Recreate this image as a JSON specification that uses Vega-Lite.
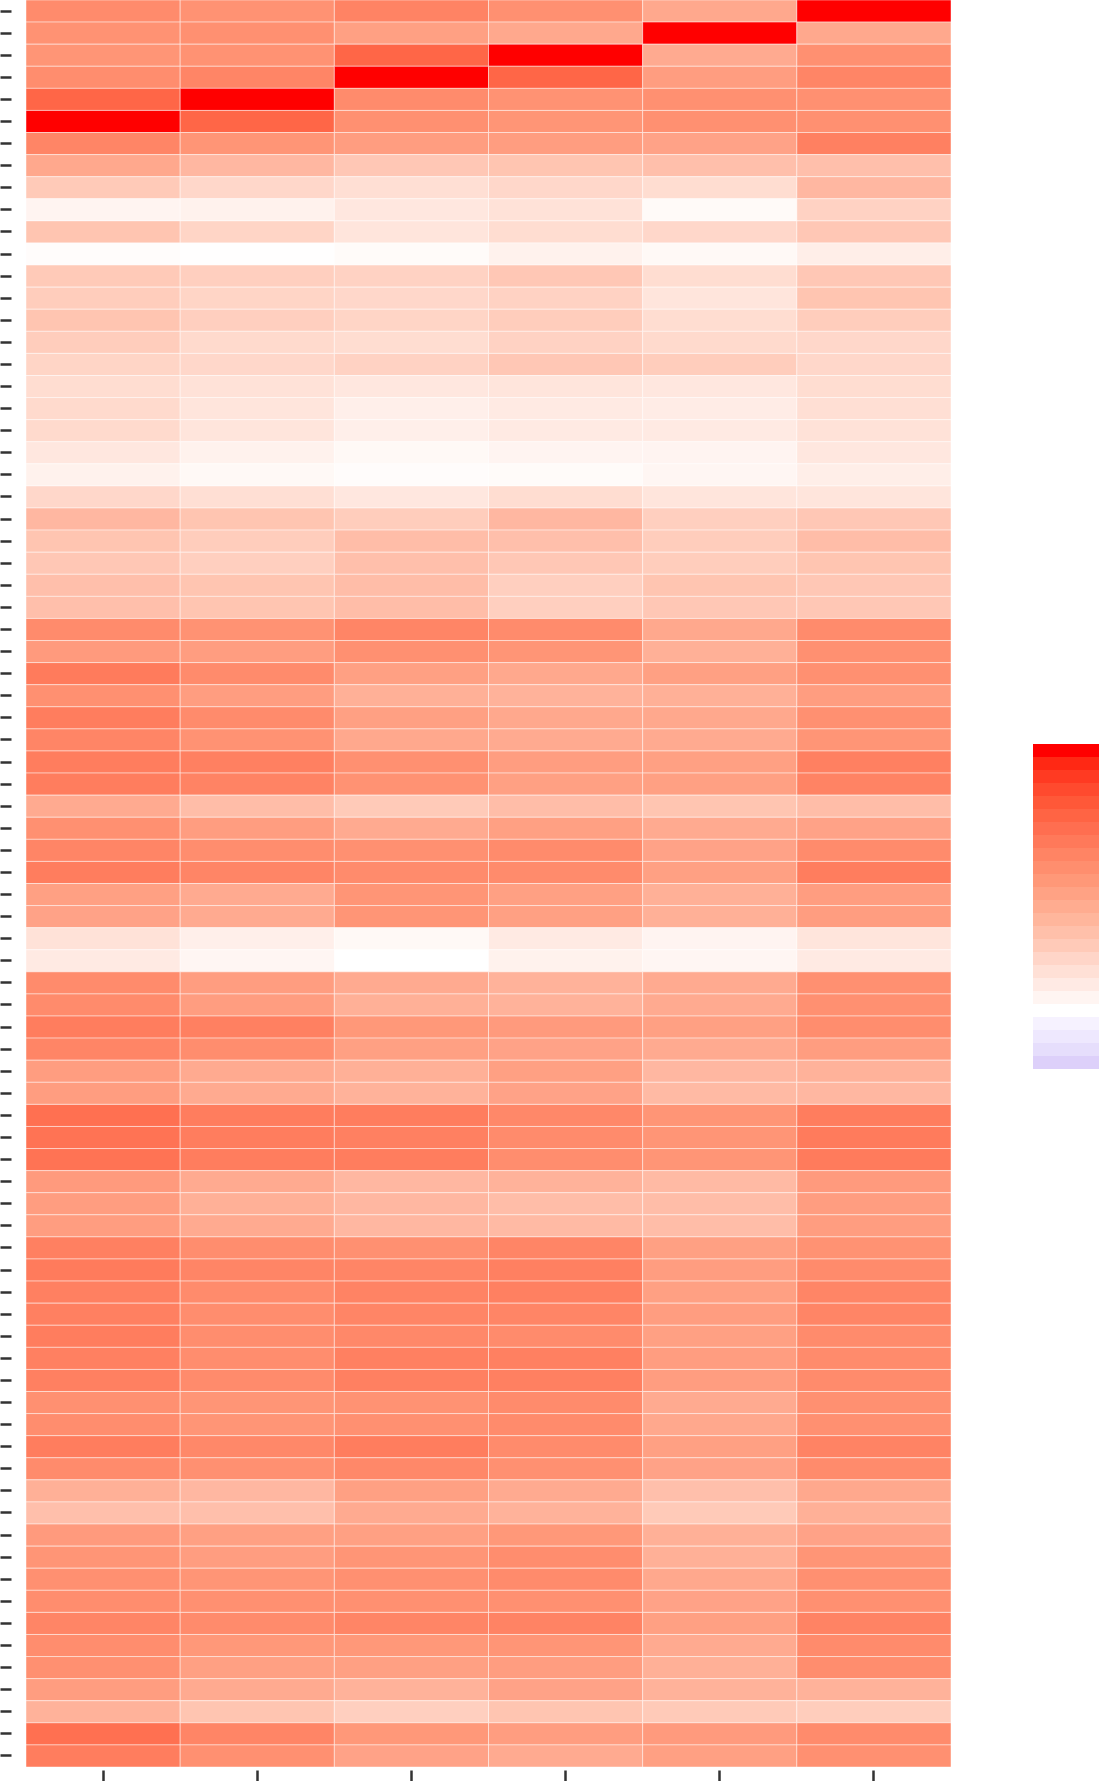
{
  "$schema": "https://vega.github.io/schema/vega-lite/v6.json",
  "width": 925,
  "height": 1767,
  "autosize": {"type": "none"},
  "padding": {"left": 26, "top": 0, "right": 148, "bottom": 14},
  "background": "#ffffff",
  "config": {"view": {"stroke": null}},
  "data": {
    "values": [
      {"r": 0, "c1": 2.2, "c2": 2.05, "c3": 2.35, "c4": 2.1, "c5": 1.65, "c6": 4.13},
      {"r": 1, "c1": 2.05, "c2": 2.1, "c3": 1.8, "c4": 1.65, "c5": 4.13, "c6": 1.65},
      {"r": 2, "c1": 2.0, "c2": 2.05, "c3": 2.9, "c4": 4.13, "c5": 1.6, "c6": 2.1},
      {"r": 3, "c1": 2.15, "c2": 2.3, "c3": 4.13, "c4": 2.9, "c5": 1.85, "c6": 2.3},
      {"r": 4, "c1": 2.9, "c2": 4.13, "c3": 2.2, "c4": 2.05, "c5": 2.1, "c6": 2.1},
      {"r": 5, "c1": 4.13, "c2": 2.9, "c3": 2.1, "c4": 2.0, "c5": 2.1, "c6": 2.1},
      {"r": 6, "c1": 2.3, "c2": 2.0, "c3": 1.85, "c4": 1.85, "c5": 1.75, "c6": 2.4},
      {"r": 7, "c1": 1.65, "c2": 1.35, "c3": 1.05, "c4": 1.1, "c5": 1.2, "c6": 1.2},
      {"r": 8, "c1": 1.0, "c2": 0.75, "c3": 0.6, "c4": 0.75, "c5": 0.65, "c6": 1.35},
      {"r": 9, "c1": 0.2, "c2": 0.25, "c3": 0.45, "c4": 0.55, "c5": 0.1, "c6": 0.85},
      {"r": 10, "c1": 1.1, "c2": 0.8, "c3": 0.5, "c4": 0.65, "c5": 0.75, "c6": 1.05},
      {"r": 11, "c1": 0.05, "c2": 0.02, "c3": 0.08, "c4": 0.25, "c5": 0.12, "c6": 0.32},
      {"r": 12, "c1": 1.0, "c2": 0.9, "c3": 0.85, "c4": 1.05, "c5": 0.65, "c6": 1.05},
      {"r": 13, "c1": 0.95, "c2": 0.8, "c3": 0.75, "c4": 0.85, "c5": 0.5, "c6": 1.1},
      {"r": 14, "c1": 1.1, "c2": 0.9, "c3": 0.8, "c4": 0.95, "c5": 0.65, "c6": 0.95},
      {"r": 15, "c1": 0.95, "c2": 0.7, "c3": 0.65, "c4": 0.85, "c5": 0.7, "c6": 0.75},
      {"r": 16, "c1": 0.8, "c2": 0.75, "c3": 0.85, "c4": 1.05, "c5": 0.95, "c6": 0.75},
      {"r": 17, "c1": 0.65, "c2": 0.55, "c3": 0.45, "c4": 0.5, "c5": 0.45, "c6": 0.65},
      {"r": 18, "c1": 0.7, "c2": 0.5, "c3": 0.3, "c4": 0.4, "c5": 0.35, "c6": 0.6},
      {"r": 19, "c1": 0.7, "c2": 0.5, "c3": 0.3, "c4": 0.4, "c5": 0.4, "c6": 0.55},
      {"r": 20, "c1": 0.45, "c2": 0.25, "c3": 0.12, "c4": 0.2, "c5": 0.2, "c6": 0.45},
      {"r": 21, "c1": 0.25, "c2": 0.12, "c3": 0.05, "c4": 0.08, "c5": 0.17, "c6": 0.33},
      {"r": 22, "c1": 0.75, "c2": 0.6, "c3": 0.45, "c4": 0.65, "c5": 0.5, "c6": 0.5},
      {"r": 23, "c1": 1.35, "c2": 1.1, "c3": 0.95, "c4": 1.35, "c5": 0.9, "c6": 1.05},
      {"r": 24, "c1": 1.1, "c2": 0.95, "c3": 1.25, "c4": 1.2, "c5": 0.95, "c6": 1.25},
      {"r": 25, "c1": 1.05, "c2": 0.9, "c3": 1.2, "c4": 1.05, "c5": 0.95, "c6": 1.1},
      {"r": 26, "c1": 1.2, "c2": 1.1, "c3": 1.25, "c4": 0.9, "c5": 1.1, "c6": 1.05},
      {"r": 27, "c1": 1.2, "c2": 1.1, "c3": 1.25, "c4": 0.9, "c5": 1.05, "c6": 1.05},
      {"r": 28, "c1": 2.2, "c2": 2.05, "c3": 2.3, "c4": 2.2, "c5": 1.65, "c6": 2.2},
      {"r": 29, "c1": 1.9, "c2": 1.85, "c3": 2.1, "c4": 2.0, "c5": 1.5, "c6": 2.1},
      {"r": 30, "c1": 2.5, "c2": 2.2, "c3": 1.8, "c4": 1.65, "c5": 1.8, "c6": 2.1},
      {"r": 31, "c1": 2.1, "c2": 1.85, "c3": 1.5, "c4": 1.45, "c5": 1.5, "c6": 1.85},
      {"r": 32, "c1": 2.45, "c2": 2.2, "c3": 1.8, "c4": 1.65, "c5": 1.65, "c6": 2.1},
      {"r": 33, "c1": 2.3, "c2": 2.05, "c3": 1.65, "c4": 1.6, "c5": 1.6, "c6": 2.0},
      {"r": 34, "c1": 2.45, "c2": 2.4, "c3": 2.1, "c4": 1.85, "c5": 1.8, "c6": 2.4},
      {"r": 35, "c1": 2.45, "c2": 2.35, "c3": 2.05, "c4": 1.8, "c5": 1.8, "c6": 2.35},
      {"r": 36, "c1": 1.6, "c2": 1.25, "c3": 1.0, "c4": 1.25, "c5": 1.1, "c6": 1.25},
      {"r": 37, "c1": 2.1, "c2": 1.85, "c3": 1.6, "c4": 1.8, "c5": 1.6, "c6": 1.75},
      {"r": 38, "c1": 2.3, "c2": 2.15, "c3": 2.1, "c4": 2.2, "c5": 1.75, "c6": 2.2},
      {"r": 39, "c1": 2.45, "c2": 2.3, "c3": 2.2, "c4": 2.2, "c5": 1.8, "c6": 2.45},
      {"r": 40, "c1": 1.8, "c2": 1.6, "c3": 2.0, "c4": 1.8, "c5": 1.5, "c6": 1.85},
      {"r": 41, "c1": 1.75, "c2": 1.6, "c3": 2.0, "c4": 1.8, "c5": 1.5, "c6": 1.85},
      {"r": 42, "c1": 0.55, "c2": 0.3, "c3": 0.12, "c4": 0.4, "c5": 0.2, "c6": 0.5},
      {"r": 43, "c1": 0.4, "c2": 0.17, "c3": 0.0, "c4": 0.25, "c5": 0.17, "c6": 0.4},
      {"r": 44, "c1": 2.2, "c2": 1.85, "c3": 1.6, "c4": 1.45, "c5": 1.6, "c6": 2.1},
      {"r": 45, "c1": 2.2, "c2": 1.85, "c3": 1.5, "c4": 1.45, "c5": 1.6, "c6": 2.1},
      {"r": 46, "c1": 2.45, "c2": 2.4, "c3": 1.95, "c4": 1.9, "c5": 1.8, "c6": 2.15},
      {"r": 47, "c1": 2.3, "c2": 2.15, "c3": 1.8, "c4": 1.75, "c5": 1.6, "c6": 1.85},
      {"r": 48, "c1": 1.85, "c2": 1.6, "c3": 1.5, "c4": 1.8, "c5": 1.35, "c6": 1.45},
      {"r": 49, "c1": 1.85, "c2": 1.6, "c3": 1.45, "c4": 1.75, "c5": 1.3, "c6": 1.35},
      {"r": 50, "c1": 2.7, "c2": 2.45, "c3": 2.45, "c4": 2.25, "c5": 2.0, "c6": 2.45},
      {"r": 51, "c1": 2.65, "c2": 2.45, "c3": 2.4, "c4": 2.2, "c5": 2.0, "c6": 2.5},
      {"r": 52, "c1": 2.65, "c2": 2.45, "c3": 2.45, "c4": 2.15, "c5": 2.0, "c6": 2.5},
      {"r": 53, "c1": 1.9, "c2": 1.6, "c3": 1.35, "c4": 1.45, "c5": 1.3, "c6": 1.9},
      {"r": 54, "c1": 1.85, "c2": 1.5, "c3": 1.35, "c4": 1.25, "c5": 1.25, "c6": 1.85},
      {"r": 55, "c1": 1.85, "c2": 1.6, "c3": 1.35, "c4": 1.3, "c5": 1.25, "c6": 1.85},
      {"r": 56, "c1": 2.4, "c2": 2.15, "c3": 2.1, "c4": 2.3, "c5": 1.8, "c6": 2.05},
      {"r": 57, "c1": 2.5, "c2": 2.3, "c3": 2.3, "c4": 2.4, "c5": 1.85, "c6": 2.2},
      {"r": 58, "c1": 2.4, "c2": 2.2, "c3": 2.35, "c4": 2.4, "c5": 1.8, "c6": 2.3},
      {"r": 59, "c1": 2.4, "c2": 2.15, "c3": 2.3, "c4": 2.3, "c5": 1.85, "c6": 2.3},
      {"r": 60, "c1": 2.45, "c2": 2.15, "c3": 2.25, "c4": 2.2, "c5": 1.8, "c6": 2.2},
      {"r": 61, "c1": 2.4, "c2": 2.15, "c3": 2.4, "c4": 2.4, "c5": 1.85, "c6": 2.2},
      {"r": 62, "c1": 2.4, "c2": 2.2, "c3": 2.4, "c4": 2.4, "c5": 1.85, "c6": 2.2},
      {"r": 63, "c1": 2.1, "c2": 2.0, "c3": 2.05, "c4": 2.2, "c5": 1.6, "c6": 2.1},
      {"r": 64, "c1": 2.15, "c2": 2.0, "c3": 2.1, "c4": 2.2, "c5": 1.65, "c6": 2.1},
      {"r": 65, "c1": 2.45, "c2": 2.25, "c3": 2.45, "c4": 2.2, "c5": 1.8, "c6": 2.35},
      {"r": 66, "c1": 2.2, "c2": 2.1, "c3": 2.25, "c4": 2.1, "c5": 1.75, "c6": 2.2},
      {"r": 67, "c1": 1.5, "c2": 1.35, "c3": 1.8, "c4": 1.6, "c5": 1.2, "c6": 1.65},
      {"r": 68, "c1": 1.2, "c2": 1.2, "c3": 1.6, "c4": 1.45, "c5": 1.0, "c6": 1.5},
      {"r": 69, "c1": 1.9, "c2": 1.8, "c3": 1.8, "c4": 1.95, "c5": 1.5, "c6": 1.75},
      {"r": 70, "c1": 2.0, "c2": 1.85, "c3": 2.0, "c4": 2.15, "c5": 1.5, "c6": 2.0},
      {"r": 71, "c1": 2.1, "c2": 2.0, "c3": 2.1, "c4": 2.2, "c5": 1.65, "c6": 2.1},
      {"r": 72, "c1": 2.15, "c2": 2.1, "c3": 2.1, "c4": 2.1, "c5": 1.75, "c6": 2.1},
      {"r": 73, "c1": 2.3, "c2": 2.2, "c3": 2.3, "c4": 2.35, "c5": 1.8, "c6": 2.35},
      {"r": 74, "c1": 2.15, "c2": 1.95, "c3": 1.95, "c4": 2.0, "c5": 1.6, "c6": 2.2},
      {"r": 75, "c1": 2.1, "c2": 1.8, "c3": 1.8, "c4": 1.85, "c5": 1.5, "c6": 2.15},
      {"r": 76, "c1": 1.85, "c2": 1.6, "c3": 1.45, "c4": 1.75, "c5": 1.45, "c6": 1.45},
      {"r": 77, "c1": 1.45, "c2": 1.1, "c3": 0.9, "c4": 1.1, "c5": 1.0, "c6": 0.95},
      {"r": 78, "c1": 2.7, "c2": 2.3, "c3": 1.95, "c4": 1.85, "c5": 1.9, "c6": 2.2},
      {"r": 79, "c1": 2.45, "c2": 2.1, "c3": 1.75, "c4": 1.6, "c5": 1.8, "c6": 2.1}
    ]
  },
  "transform": [
    {"fold": ["c1", "c2", "c3", "c4", "c5", "c6"], "as": ["col", "v"]}
  ],
  "encoding": {
    "x": {
      "field": "col",
      "type": "nominal",
      "sort": "ascending",
      "scale": {"paddingInner": 0, "paddingOuter": 0},
      "axis": {
        "orient": "bottom",
        "title": null,
        "labels": false,
        "domain": false,
        "grid": false,
        "ticks": true,
        "tickSize": 11,
        "tickWidth": 2.5,
        "tickColor": "#333333",
        "offset": 3
      }
    },
    "y": {
      "field": "r",
      "type": "ordinal",
      "sort": "ascending",
      "scale": {"paddingInner": 0, "paddingOuter": 0},
      "axis": {
        "orient": "left",
        "title": null,
        "labels": false,
        "domain": false,
        "grid": false,
        "ticks": true,
        "tickSize": 11,
        "tickWidth": 2.5,
        "tickColor": "#333333",
        "offset": 15
      }
    }
  },
  "layer": [
    {
      "mark": {"type": "rect", "stroke": "#ffffff", "strokeWidth": 1, "strokeOpacity": 0.45},
      "encoding": {
        "color": {
          "field": "v",
          "type": "quantitative",
          "scale": {
            "domain": [0, 1, 2, 2.9, 4.13],
            "range": ["#ffffff", "#ffcab8", "#ff9576", "#ff6647", "#ff0000"],
            "interpolate": "rgb"
          },
          "legend": null
        }
      }
    },
    {
      "transform": [{"filter": "datum.v > 100"}],
      "mark": {"type": "rect"},
      "encoding": {
        "color": {
          "field": "v",
          "type": "quantitative",
          "scale": {
            "type": "quantize",
            "domain": [-0.93, 4.13],
            "range": [
              "#ddd0fa", "#e6defc", "#eee8fe", "#f6f2ff", "#ffffff",
              "#fff5f2", "#ffeae4", "#ffe0d6", "#ffd5c8", "#ffcab8",
              "#ffc0aa", "#ffb69c", "#ffac90", "#ffa284", "#ff9878",
              "#ff8e6e", "#ff8464", "#ff795a", "#ff6e50", "#ff6444",
              "#ff5838", "#ff4a2e", "#ff3a22", "#ff2814", "#ff0000"
            ]
          },
          "legend": {
            "type": "gradient",
            "orient": "none",
            "direction": "vertical",
            "legendX": 1007,
            "legendY": 744,
            "gradientLength": 325,
            "gradientThickness": 100,
            "gradientStrokeWidth": 0,
            "title": null,
            "labelExpr": "''"
          }
        }
      }
    }
  ],
  "resolve": {"scale": {"color": "independent"}}
}
